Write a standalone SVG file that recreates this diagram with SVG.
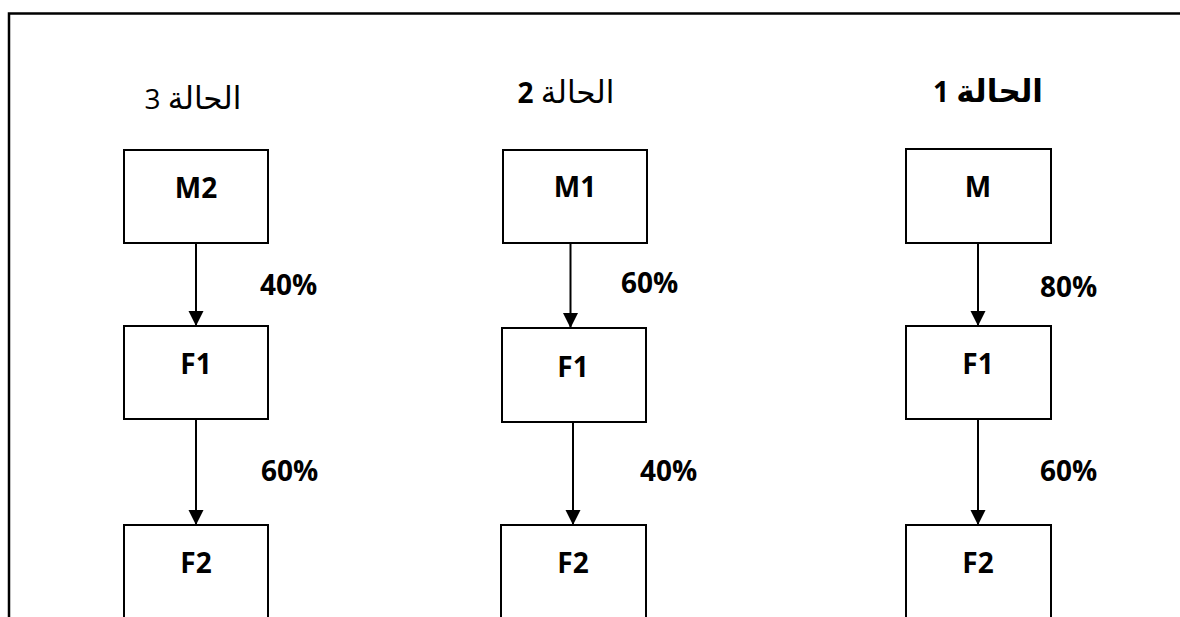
<svg xmlns="http://www.w3.org/2000/svg" width="1180" height="617" viewBox="0 0 1180 617">
  <style>
    .frame { fill: none; stroke: #000; stroke-width: 2.5; }
    .box { fill: #fff; stroke: #000; stroke-width: 2; }
    .edge { fill: none; stroke: #000; stroke-width: 2; marker-end: url(#arrow); }
    .lbl { font-family: "Open Sans", "Noto Sans", sans-serif; font-weight: bold; font-size: 28px; fill: #000; text-anchor: middle; }
    .pct { font-family: "Open Sans", "Noto Sans", sans-serif; font-weight: bold; font-size: 28px; fill: #000; }
    .title { font-family: "Open Sans", "DejaVu Sans", sans-serif; font-size: 28px; fill: #000; text-anchor: middle; }
    .ar { font-family: "DejaVu Sans", sans-serif; font-size: 31px; }
    .b { font-weight: bold; }
  </style>
  <defs>
    <marker id="arrow" markerUnits="userSpaceOnUse" markerWidth="16" markerHeight="16" refX="15" refY="7.5" orient="auto">
      <path d="M0,0 L15,7.5 L0,15 Z" fill="#000"/>
    </marker>
  </defs>
  <rect width="1180" height="617" fill="#fff"/>

  <!-- outer frame (top and left edges) -->
  <path class="frame" d="M9,630 V13.5 H1190"/>

  <!-- case titles -->
  <g id="title-case3"><text class="title" x="193" y="109"><tspan class="ar">الحالة</tspan> 3</text></g>
  <g id="title-case2"><text class="title" x="566" y="103"><tspan class="ar">الحالة</tspan> <tspan class="b">2</tspan></text></g>
  <g id="title-case1"><text class="title b" x="988" y="102"><tspan class="ar">الحالة</tspan> 1</text></g>

  <!-- case 3 column -->
  <g id="node-m2"><rect class="box" x="124" y="150" width="144" height="93"/><text class="lbl" x="196" y="198">M2</text></g>
  <g id="node-f1-c3"><rect class="box" x="124" y="326" width="144" height="93"/><text class="lbl" x="196" y="374">F1</text></g>
  <g id="node-f2-c3"><rect class="box" x="124" y="525" width="144" height="110"/><text class="lbl" x="196" y="573">F2</text></g>

  <!-- case 2 column -->
  <g id="node-m1"><rect class="box" x="503" y="150" width="144" height="93"/><text class="lbl" x="575" y="197">M1</text></g>
  <g id="node-f1-c2"><rect class="box" x="502" y="328" width="144" height="94"/><text class="lbl" x="573" y="377">F1</text></g>
  <g id="node-f2-c2"><rect class="box" x="501" y="525" width="145" height="110"/><text class="lbl" x="573" y="573">F2</text></g>

  <!-- case 1 column -->
  <g id="node-m"><rect class="box" x="906" y="149" width="145" height="94"/><text class="lbl" x="978" y="197">M</text></g>
  <g id="node-f1-c1"><rect class="box" x="906" y="326" width="145" height="93"/><text class="lbl" x="978" y="374">F1</text></g>
  <g id="node-f2-c1"><rect class="box" x="906" y="525" width="145" height="110"/><text class="lbl" x="978" y="573">F2</text></g>

  <!-- connectors with their shares -->
  <g id="connectors">
    <line class="edge" x1="196" y1="243" x2="196" y2="326"/>
    <line class="edge" x1="196" y1="419" x2="196" y2="525"/>
    <line class="edge" x1="570.5" y1="243" x2="570.5" y2="328"/>
    <line class="edge" x1="573" y1="422" x2="573" y2="525"/>
    <line class="edge" x1="978" y1="243" x2="978" y2="326"/>
    <line class="edge" x1="978" y1="419" x2="978" y2="525"/>
    <text class="pct" x="260" y="295">40%</text>
    <text class="pct" x="261" y="481">60%</text>
    <text class="pct" x="621" y="293">60%</text>
    <text class="pct" x="640" y="481">40%</text>
    <text class="pct" x="1040" y="297">80%</text>
    <text class="pct" x="1040" y="481">60%</text>
  </g>
</svg>
